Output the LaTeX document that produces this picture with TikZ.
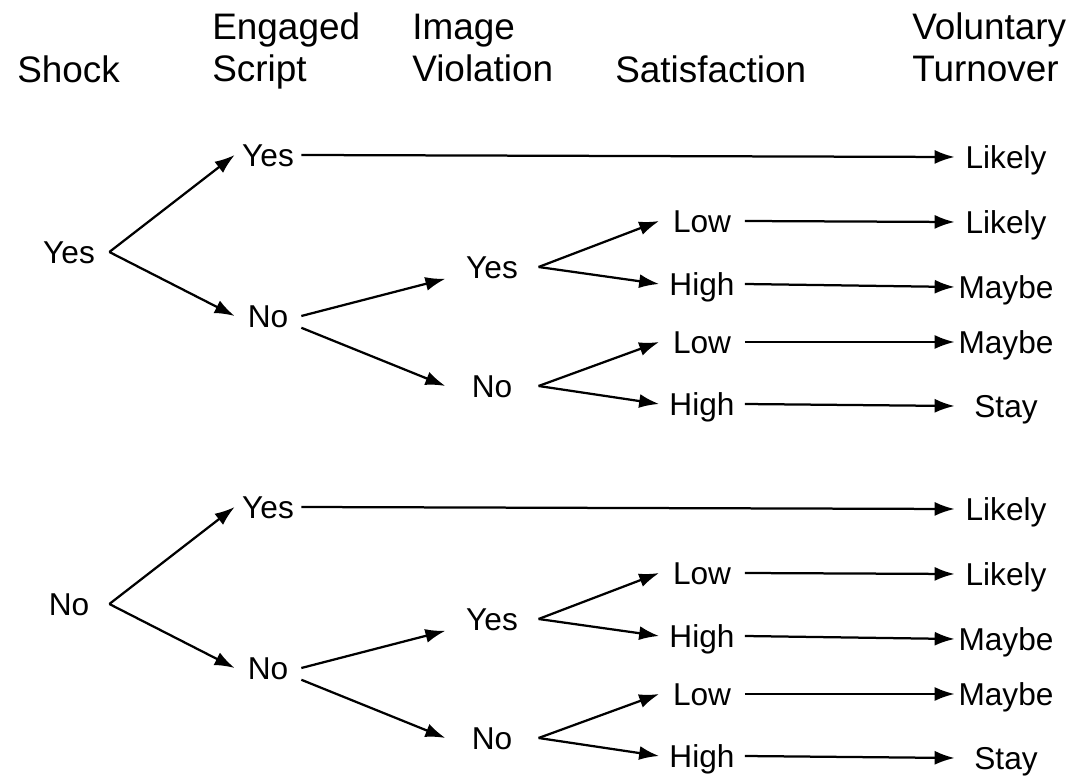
\documentclass[tikz,border=0pt]{standalone}
\usepackage{fontspec}
\setmainfont{Liberation Sans}
\usetikzlibrary{arrows.meta}

\begin{document}
\begin{tikzpicture}[x=0.02cm, y=-0.02cm,
			headStyle/.style={font=\fontsize{21}{24}\selectfont, anchor=base west, align=left, inner sep=0pt},
			choice/.style={font=\fontsize{18}{21}\selectfont, text height=13pt, text depth=0pt, inner sep=0pt, minimum width=#1},
			outcome/.style={choice=2.04cm},
			arrowStyle/.style={-{Latex[length=0.4cm, width=0.28cm]}, line width=0.045cm},]
			
			\useasboundingbox (0,0) rectangle (1075,783);
			
			% column headings (base is the last line)
			\node[headStyle] (hShock) at (17,83) {Shock};
			\node[headStyle] (hScript) at (212,82) {Engaged\\Script};
			\node[headStyle] (hImage) at (412,82) {Image\\Violation};
			\node[headStyle] (hSat) at (615,83) {Satisfaction};
			\node[headStyle] (hTurn) at (912,82) {Voluntary\\Turnover};
			
			% the two trees
			\foreach \t/\off/\ans in {1/0/Yes, 2/352/No} {
				\node[choice=1.6cm] (shock\t) at (69,252+\off) {\ans};
				
				\node[choice=1.32cm] (scrYes\t) at (268,155+\off) {Yes};
				\node[choice=1.32cm] (scrNo\t) at (268,316+\off) {No};
				
				\node[choice=1.85cm] (imgYes\t) at (492,267+\off) {Yes};
				\node[choice=1.85cm] (imgNo\t) at (492,386+\off) {No};
				
				\node[choice=1.7cm] (lowA\t) at (702,221+\off) {Low};
				\node[choice=1.7cm] (highA\t) at (702,284+\off) {High};
				\node[choice=1.7cm] (lowB\t) at (702,342+\off) {Low};
				\node[choice=1.7cm] (highB\t) at (702,404+\off) {High};
				
				\node[outcome] (turnO\t) at (1006,157+\off) {Likely};
				\node[outcome] (turnA\t) at (1006,222+\off) {Likely};
				\node[outcome] (turnB\t) at (1006,287+\off) {Maybe};
				\node[outcome] (turnC\t) at (1006,342+\off) {Maybe};
				\node[outcome] (turnD\t) at (1006,406+\off) {Stay};
				
				\draw[arrowStyle] (shock\t.east) -- (scrYes\t.west);
				\draw[arrowStyle] (shock\t.east) -- (scrNo\t.west);
				\draw[arrowStyle] (scrYes\t.east) -- (turnO\t.west);
				
				\draw[arrowStyle] (scrNo\t.east) -- (imgYes\t.south west);
				\draw[arrowStyle] (scrNo\t.south east) -- (imgNo\t.west);
				
				\draw[arrowStyle] (imgYes\t.east) -- (lowA\t.west);
				\draw[arrowStyle] (imgYes\t.east) -- (highA\t.west);
				\draw[arrowStyle] (imgNo\t.east) -- (lowB\t.west);
				\draw[arrowStyle] (imgNo\t.east) -- (highB\t.west);
				
				\draw[arrowStyle] (lowA\t.east) -- (turnA\t.west);
				\draw[arrowStyle] (highA\t.east) -- (turnB\t.west);
				\draw[arrowStyle] (lowB\t.east) -- (turnC\t.west);
				\draw[arrowStyle] (highB\t.east) -- (turnD\t.west);
			}
		\end{tikzpicture}
\end{document}
